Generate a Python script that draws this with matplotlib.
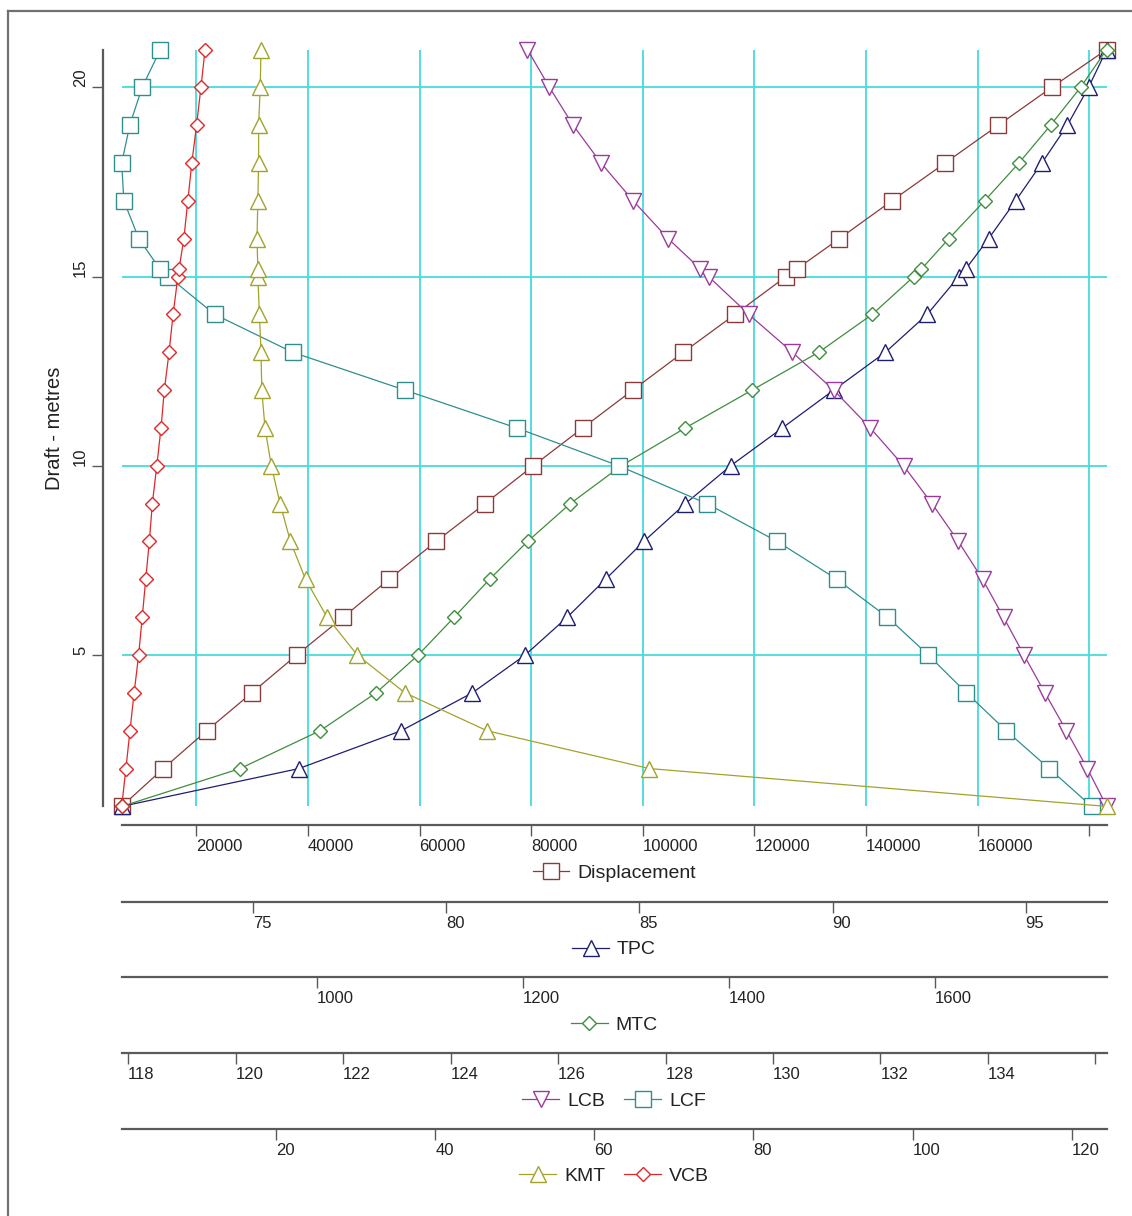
import matplotlib
matplotlib.use("Agg")
import matplotlib.pyplot as plt
from matplotlib.lines import Line2D

plt.rcParams["font.family"] = ["Liberation Sans", "DejaVu Sans"]

# ---- hydrostatic data ----
draft = [1, 2, 3, 4, 5, 6, 7, 8, 9, 10, 11, 12, 13, 14, 15, 15.2,
         16, 17, 18, 19, 20, 21]
displacement = [6630, 14090, 21860, 29930, 37990, 46340, 54530, 62960,
                71740, 80390, 89250, 98210, 107280, 116540, 125680, 127600,
                135230, 144620, 154180, 163730, 173300, 183150]
tpc = [71.59, 76.18, 78.83, 80.67, 82.04, 83.13, 84.12, 85.11, 86.19, 87.36,
       88.70, 90.03, 91.37, 92.45, 93.27, 93.45, 94.04, 94.74, 95.42, 96.08,
       96.63, 97.10]
mtc = [810.2, 925.2, 1002.9, 1057.3, 1098.2, 1133.2, 1167.5, 1204.4, 1245.9,
       1295.5, 1357.7, 1422.5, 1487.3, 1539.2, 1579.6, 1587.1, 1613.6, 1648.3,
       1681.7, 1712.5, 1741.6, 1767.0]
lcb = [136.21, 135.85, 135.46, 135.06, 134.67, 134.29, 133.90, 133.45, 132.96,
       132.43, 131.81, 131.13, 130.36, 129.55, 128.80, 128.65, 128.05, 127.40,
       126.80, 126.28, 125.84, 125.43]
lcf = [135.93, 135.14, 134.34, 133.60, 132.89, 132.13, 131.19, 130.08, 128.77,
       127.13, 125.23, 123.15, 121.06, 119.61, 118.75, 118.59, 118.20, 117.92,
       117.88, 118.03, 118.26, 118.60]
kmt = [124.4, 66.9, 46.5, 36.2, 30.2, 26.4, 23.7, 21.8, 20.5, 19.4, 18.6,
       18.2, 18.1, 17.9, 17.7, 17.7, 17.6, 17.7, 17.8, 17.8, 18.0, 18.1]
vcb = [0.59, 1.12, 1.63, 2.15, 2.72, 3.17, 3.61, 4.06, 4.44, 5.00, 5.53,
       5.95, 6.54, 7.05, 7.65, 7.80, 8.40, 8.90, 9.40, 10.00, 10.55, 11.07]

draft_ticks = [5, 10, 15, 20]
disp_ticks = [20000, 40000, 60000, 80000, 100000, 120000, 140000, 160000, 180000]
disp_labels = ["20000", "40000", "60000", "80000", "100000", "120000",
               "140000", "160000", ""]
tpc_ticks = [75, 80, 85, 90, 95]
mtc_ticks = [1000, 1200, 1400, 1600]
lcb_ticks = [118, 120, 122, 124, 126, 128, 130, 132, 134, 136]
lcb_labels = ["118", "120", "122", "124", "126", "128", "130", "132", "134", ""]
kmt_ticks = [20, 40, 60, 80, 100, 120]

# ---- palette ----
C_DISP = "#8B3A3A"
C_TPC = "#1E1E72"
C_MTC = "#3E8E3E"
C_LCB = "#9A3A9A"
C_LCF = "#2F8F8F"
C_KMT = "#A3A22C"
C_VCB = "#E02828"
GRID = "#45DCDC"
AXIS = "#5A5A5A"
TEXT = "#222222"

W, H = 1132, 1216
fig = plt.figure(figsize=(W / 100, H / 100), dpi=100)
fig.patch.set_facecolor("white")

# plot box in pixels
x0, x1, y0, y1 = 121.7, 1106.7, 49.5, 806.4
ax = fig.add_axes([x0 / W, 1 - y1 / H, (x1 - x0) / W, (y1 - y0) / H])
PT = 0.72  # px -> pt at 100 dpi
XMID = (x0 + x1) / 2 / W


def style_x(a, off_px, ticks, labels=None):
    for s in ("top", "right", "left"):
        a.spines[s].set_visible(False)
    sp = a.spines["bottom"]
    sp.set_visible(True)
    sp.set_position(("outward", off_px * PT))
    sp.set_color(AXIS)
    sp.set_linewidth(1.6)
    a.xaxis.set_ticks_position("bottom")
    a.xaxis.set_label_position("bottom")
    a.set_xticks(ticks, labels if labels else [str(t) for t in ticks])
    a.tick_params(axis="x", direction="out", length=8, width=1.0, color=AXIS,
                  labelsize=12, pad=2, labelcolor=TEXT)
    for t in a.get_xticklabels():
        t.set_ha("left")


def series(a, x, label, color, marker, ms):
    a.plot(x, draft, color=color, lw=0.9, marker=marker, ms=ms,
           mfc="white", mec=color, mew=1.0, clip_on=False, label=label)


def add_legend(a, ypx, handles):
    a.legend(handles=handles, loc="center", bbox_to_anchor=(XMID, 1 - ypx / H),
             bbox_transform=fig.transFigure, frameon=False, ncol=len(handles),
             fontsize=14, handlelength=1.9, handletextpad=0.4,
             columnspacing=1.0, numpoints=1, labelcolor=TEXT)


def handle(label, color, marker, ms):
    return Line2D([], [], color=color, lw=0.9, marker=marker, ms=ms,
                  mfc="white", mec=color, mew=1.0, label=label)


# ---- main axes: displacement + draft ----
ax.set_ylim(min(draft), max(draft))
ax.set_xlim(min(displacement), max(displacement))
ax.set_axisbelow(True)
ax.grid(True, color=GRID, lw=1.3)
style_x(ax, 18.6, disp_ticks, disp_labels)
ax.spines["left"].set_visible(True)
ax.spines["left"].set_position(("outward", 18.4 * PT))
ax.spines["left"].set_color(AXIS)
ax.spines["left"].set_linewidth(1.6)
ax.set_yticks(draft_ticks, [str(t) for t in draft_ticks])
ax.tick_params(axis="y", direction="out", length=8, width=1.0, color=AXIS,
               labelsize=12, pad=3, labelcolor=TEXT)
for t in ax.get_yticklabels():
    t.set_rotation(90)
    t.set_ha("right")
    t.set_va("bottom")
ax.set_ylabel("Draft - metres", fontsize=14.5, color=TEXT)
ax.yaxis.label.set_va("center")
ax.yaxis.set_label_coords((55 - x0) / (x1 - x0), 0.5)

# ---- twin scales ----
ax_tpc = ax.twiny()
ax_tpc.set_xlim(min(tpc), max(tpc))
style_x(ax_tpc, 95.3, tpc_ticks)

ax_mtc = ax.twiny()
ax_mtc.set_xlim(min(mtc), max(mtc))
style_x(ax_mtc, 170.6, mtc_ticks)

ax_lc = ax.twiny()
ax_lc.set_xlim(min(lcb + lcf), max(lcb + lcf))
style_x(ax_lc, 246.6, lcb_ticks, lcb_labels)

ax_kv = ax.twiny()
ax_kv.set_xlim(min(kmt + vcb), max(kmt + vcb))
style_x(ax_kv, 322.6, kmt_ticks)

# ---- series ----
series(ax_kv, kmt, "KMT", C_KMT, "^", 11.5)
series(ax_kv, vcb, "VCB", C_VCB, "D", 6.8)
series(ax_lc, lcf, "LCF", C_LCF, "s", 11)
series(ax_lc, lcb, "LCB", C_LCB, "v", 11.5)
series(ax_mtc, mtc, "MTC", C_MTC, "D", 6.8)
series(ax_tpc, tpc, "TPC", C_TPC, "^", 11.5)
series(ax, displacement, "Displacement", C_DISP, "s", 11)

# ---- legends under each scale ----
add_legend(ax, 873, [handle("Displacement", C_DISP, "s", 11)])
add_legend(ax_tpc, 949.5, [handle("TPC", C_TPC, "^", 11.5)])
add_legend(ax_mtc, 1025, [handle("MTC", C_MTC, "D", 6.8)])
add_legend(ax_lc, 1101, [handle("LCB", C_LCB, "v", 11.5),
                         handle("LCF", C_LCF, "s", 11)])
add_legend(ax_kv, 1176, [handle("KMT", C_KMT, "^", 11.5),
                         handle("VCB", C_VCB, "D", 6.8)])

# frame edges (top / left) of the original picture
fig.add_artist(Line2D([8 / W, 1], [1 - 10.5 / H, 1 - 10.5 / H],
                      transform=fig.transFigure, color="#707070", lw=1.6))
fig.add_artist(Line2D([8 / W, 8 / W], [0, 1 - 10.5 / H],
                      transform=fig.transFigure, color="#707070", lw=1.6))

fig.savefig("out.png", dpi=100, facecolor="white")
